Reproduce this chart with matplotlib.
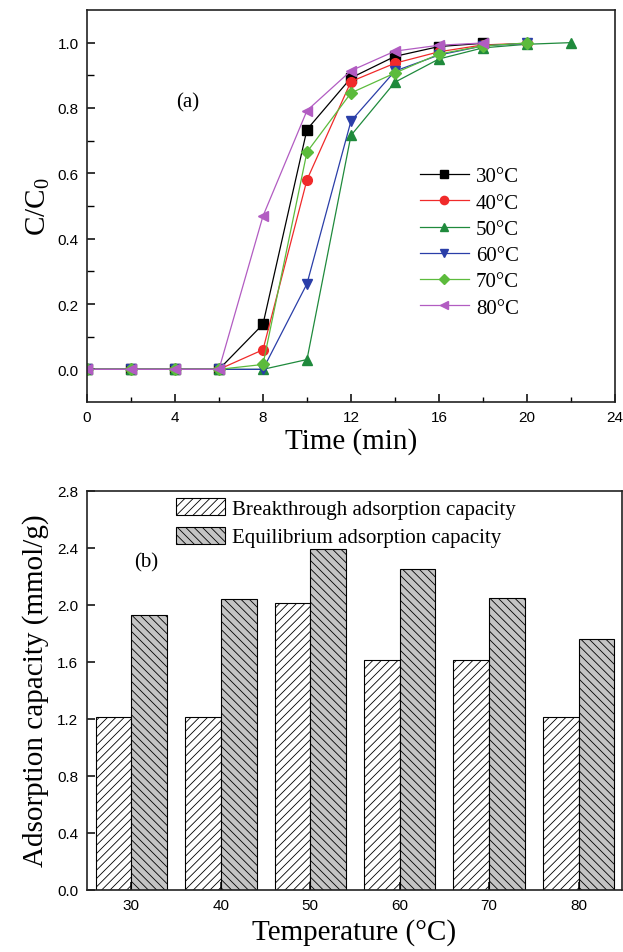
import matplotlib
matplotlib.use('Agg')
import matplotlib.pyplot as plt
import numpy as np

plt.rcParams['font.family'] = 'Liberation Serif'
plt.rcParams['mathtext.fontset'] = 'custom'
plt.rcParams['mathtext.rm'] = 'Liberation Serif'
plt.rcParams['hatch.linewidth'] = 0.6

# breakthrough curves, C/C0 vs time (min)
time_30 = [0, 2, 4, 6, 8, 10, 12, 14, 16, 18]
c_30 = [0, 0, 0, 0, 0.138, 0.734, 0.892, 0.958, 0.988, 0.998]
time_40 = [0, 2, 4, 6, 8, 10, 12, 14, 16, 18, 20]
c_40 = [0, 0, 0, 0, 0.06, 0.58, 0.881, 0.937, 0.972, 0.993, 0.998]
time_50 = [0, 2, 4, 6, 8, 10, 12, 14, 16, 18, 20, 22]
c_50 = [0, 0, 0, 0, 0, 0.03, 0.716, 0.879, 0.95, 0.984, 0.995, 1.0]
time_60 = [0, 2, 4, 6, 8, 10, 12, 14, 16, 18, 20]
c_60 = [0, 0, 0, 0, 0, 0.262, 0.76, 0.913, 0.962, 0.99, 0.998]
time_70 = [0, 2, 4, 6, 8, 10, 12, 14, 16, 18, 20]
c_70 = [0, 0, 0, 0, 0.015, 0.665, 0.846, 0.907, 0.965, 0.99, 0.999]
time_80 = [0, 2, 4, 6, 8, 10, 12, 14, 16, 18]
c_80 = [0, 0, 0, 0, 0.469, 0.792, 0.914, 0.974, 0.992, 0.999]

# adsorption capacities (mmol/g)
temps = ['30', '40', '50', '60', '70', '80']
breakthrough = [1.21, 1.21, 2.01, 1.61, 1.61, 1.21]
equilibrium = [1.93, 2.04, 2.39, 2.25, 2.05, 1.76]

fig = plt.figure(figsize=(6.23, 9.53), dpi=100)
ax1 = fig.add_axes([0.1396, 0.5771, 0.8475, 0.4114])
ax2 = fig.add_axes([0.1392, 0.0654, 0.8584, 0.4187])

series = [
    (time_30, c_30, 's', '#000000', u'30\u00b0C'),
    (time_40, c_40, 'o', '#f02a2a', u'40\u00b0C'),
    (time_50, c_50, '^', '#1f8a3c', u'50\u00b0C'),
    (time_60, c_60, 'v', '#2a3ea8', u'60\u00b0C'),
    (time_70, c_70, 'D', '#5cbb3c', u'70\u00b0C'),
    (time_80, c_80, '<', '#b25cc2', u'80\u00b0C'),
]
for t, c, m, col, lab in series:
    ms = 6 if m == 'D' else 7
    ax1.plot(t, c, marker=m, color=col, lw=0.9, ms=ms, mec=col, label=lab)

ax1.set_xlim(0, 24)
ax1.set_ylim(-0.1, 1.1)
ax1.set_xticks(np.arange(0, 25, 4))
ax1.set_xticks(np.arange(2, 24, 4), minor=True)
ax1.set_yticks(np.arange(0, 1.01, 0.2))
ax1.set_yticks(np.arange(0.1, 1.0, 0.2), minor=True)
ax1.set_xlabel('Time (min)', fontsize=21, labelpad=2)
ax1.set_ylabel('C/C$_0$', fontsize=21, labelpad=4)
ax1.text(4.57, 0.82, '(a)', fontsize=15, ha='center', va='center')
ax1.legend(loc='upper left', bbox_to_anchor=(0.63, 0.6), frameon=False,
           fontsize=15, handlelength=2.35, handletextpad=0.35,
           labelspacing=0.32, numpoints=1, markerscale=0.85,
           borderpad=0, borderaxespad=0)

x = np.arange(len(temps))
w = 0.4
ax2.bar(x - w / 2, breakthrough, w, color='white', edgecolor='black',
        hatch='////', lw=0.8, label='Breakthrough adsorption capacity')
ax2.bar(x + w / 2, equilibrium, w, color='#c4c4c4', edgecolor='black',
        hatch='\\\\\\\\', lw=0.8, label='Equilibrium adsorption capacity')
ax2.set_xlim(-0.5, 5.48)
ax2.set_ylim(0, 2.8)
ax2.set_xticks(x)
ax2.set_xticklabels(temps)
ax2.set_yticks(np.arange(0, 2.81, 0.4))
ax2.set_xlabel(u'Temperature (\u00b0C)', fontsize=21, labelpad=4)
ax2.set_ylabel('Adsorption capacity (mmol/g)', fontsize=21, labelpad=6)
ax2.text(0.17, 2.3, '(b)', fontsize=15, ha='center', va='center')
ax2.legend(loc='upper left', bbox_to_anchor=(0.167, 0.982), frameon=False,
           fontsize=15, handlelength=2.35, handleheight=0.9,
           handletextpad=0.32, labelspacing=0.38, borderpad=0, borderaxespad=0)

for ax in (ax1, ax2):
    for s in ax.spines.values():
        s.set_linewidth(1.2)
        s.set_color('#222222')
    ax.tick_params(which='major', direction='in', length=6, width=1.1,
                   labelsize=11, top=False, right=False, pad=6)
    ax.tick_params(which='minor', direction='in', length=3.5, width=1.0,
                   top=False, right=False)
    for lab in ax.get_xticklabels() + ax.get_yticklabels():
        lab.set_family('Liberation Sans')
ax1.tick_params(axis='y', which='minor', length=5)

fig.savefig('out.png', dpi=100)
